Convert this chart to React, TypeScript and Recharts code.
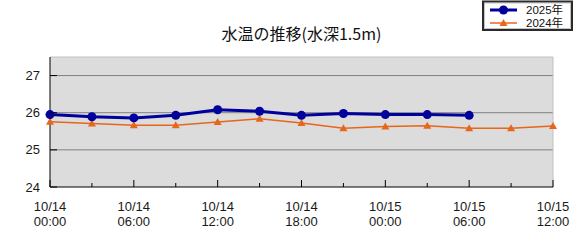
import React from 'react';
import {
  LineChart,
  Line,
  XAxis,
  YAxis,
  CartesianGrid,
  ReferenceLine,
} from 'recharts';

// 3時間ごとの観測（10/14 00:00 からの経過時間）
const hours = [0, 3, 6, 9, 12, 15, 18, 21, 24, 27, 30, 33, 36];
const temp2025 = [25.95, 25.89, 25.86, 25.93, 26.08, 26.04, 25.93, 25.98, 25.95, 25.95, 25.93];
const temp2024 = [25.76, 25.71, 25.66, 25.66, 25.75, 25.84, 25.72, 25.58, 25.63, 25.65, 25.58, 25.58, 25.64];

const xTicks = [0, 3, 6, 9, 12, 15, 18, 21, 24, 27, 30, 33, 36];
const xTickDates = ['10/14', '10/14', '10/14', '10/14', '10/15', '10/15', '10/15'];
const xTickTimes = ['00:00', '06:00', '12:00', '18:00', '00:00', '06:00', '12:00'];
const yTicks = [24, 25, 26, 27];
const gridValues = [25, 26, 27];

const seriesNames = ['2025年', '2024年'];
const title = '水温の推移(水深1.5m)';

const BLUE = '#00009c';
const ORANGE = '#e8661a';
const FONT = '"Liberation Sans", Arial, sans-serif';
const JP_FONT = '"Noto Sans CJK JP", sans-serif';
const LEGEND_FONT = '"Liberation Sans", "Noto Sans CJK JP", sans-serif';

const data = hours.map((h, i) => ({
  h,
  y2025: temp2025[i],
  y2024: temp2024[i],
}));

function XTick(props: any) {
  const { x, y, payload } = props;
  const h = payload.value as number;
  const major = h % 6 === 0;
  const idx = h / 6;
  return (
    <g>
      <line x1={x} x2={x} y1={y} y2={y - (major ? 7 : 4)} stroke="#000" />
      {major && (
        <text x={x} y={y} textAnchor="middle" fontSize={13} fontFamily={FONT} fill="#1a1a1a">
          <tspan x={x} dy={24}>{xTickDates[idx]}</tspan>
          <tspan x={x} dy={15}>{xTickTimes[idx]}</tspan>
        </text>
      )}
    </g>
  );
}

function YTick(props: any) {
  const { x, y, payload } = props;
  return (
    <g>
      <line x1={x} x2={x + 7} y1={y} y2={y} stroke="#000" />
      <text x={x - 10} y={y + 4.5} textAnchor="end" fontSize={13} fontFamily={FONT} fill="#1a1a1a">
        {payload.value}
      </text>
    </g>
  );
}

function TriangleDot(props: any) {
  const { cx, cy } = props;
  if (cx == null || cy == null) return null;
  return <path d={`M${cx},${cy - 4}L${cx + 4},${cy + 3}L${cx - 4},${cy + 3}Z`} fill={ORANGE} />;
}

export default function App() {
  return (
    <div style={{ position: 'absolute', left: 0, top: 0, width: 581, height: 245, background: '#fff' }}>
      <LineChart
        width={581}
        height={245}
        data={data}
        margin={{ top: 57, right: 28, left: 10, bottom: 8 }}
      >
        <CartesianGrid
          vertical={false}
          horizontalValues={gridValues}
          fill="#dcdcdc"
          fillOpacity={1}
          stroke="#808080"
        />
        <XAxis
          dataKey="h"
          type="number"
          domain={[0, 36]}
          ticks={xTicks}
          interval={0}
          height={50}
          tickSize={0}
          tickMargin={0}
          tickLine={false}
          axisLine={{ stroke: '#000' }}
          tick={<XTick />}
        />
        <YAxis
          type="number"
          domain={[24, 27.5]}
          ticks={yTicks}
          interval={0}
          width={40}
          tickSize={0}
          tickMargin={0}
          tickLine={false}
          axisLine={{ stroke: '#000' }}
          tick={<YTick />}
          allowDataOverflow
        />
        <ReferenceLine y={27.5} stroke="#c0c0c0" />
        <ReferenceLine x={36} stroke="#c0c0c0" />
        <Line
          dataKey="y2024"
          name={seriesNames[1]}
          stroke={ORANGE}
          strokeWidth={1.5}
          dot={<TriangleDot />}
          activeDot={false}
          isAnimationActive={false}
        />
        <Line
          dataKey="y2025"
          name={seriesNames[0]}
          stroke={BLUE}
          strokeWidth={3}
          dot={{ r: 4.5, fill: BLUE, stroke: 'none' }}
          activeDot={false}
          isAnimationActive={false}
        />
      </LineChart>
      <svg
        width={581}
        height={245}
        style={{ position: 'absolute', left: 0, top: 0, pointerEvents: 'none' }}
      >
        <text x={301.5} y={40} textAnchor="middle" fontSize={16} fontFamily={JP_FONT} fill="#111">
          {title}
        </text>
        <rect x={483} y={1.5} width={89} height={28.5} fill="#fff" stroke="#2a2a2a" strokeWidth={2} />
        <rect x={484.5} y={3} width={86} height={25.5} fill="none" stroke="#888" strokeWidth={0.5} />
        <line x1={490} x2={517} y1={10} y2={10} stroke={BLUE} strokeWidth={3} />
        <circle cx={503.5} cy={10} r={4.5} fill={BLUE} />
        <text x={526} y={14} fontSize={11.5} fontFamily={LEGEND_FONT} fill="#111">{seriesNames[0]}</text>
        <line x1={490} x2={517} y1={23} y2={23} stroke={ORANGE} strokeWidth={1.5} />
        <path d="M503.5,19L507.5,26L499.5,26Z" fill={ORANGE} />
        <text x={526} y={27} fontSize={11.5} fontFamily={LEGEND_FONT} fill="#111">{seriesNames[1]}</text>
      </svg>
    </div>
  );
}
